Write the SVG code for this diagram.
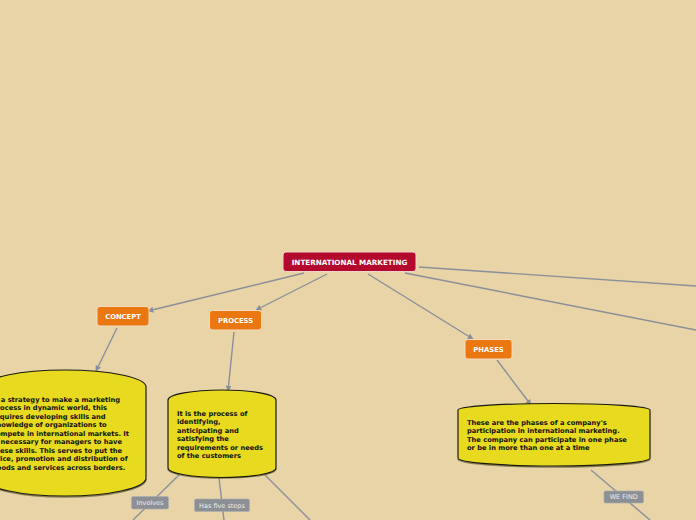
<svg xmlns="http://www.w3.org/2000/svg" width="696" height="520" viewBox="0 0 696 520">
<style>
.bg{fill:#e9d4a8}
.edge{stroke:#8a8f99;stroke-width:1.4;fill:none}
.main rect{fill:#b3092c;stroke:#f2d4cf;stroke-width:1}
.sub rect{fill:#ea770f;stroke:#f5dcc0;stroke-width:1}
.lbl{font-family:"DejaVu Sans",Verdana,sans-serif;font-weight:bold;font-size:6.8px;fill:#ffffff;text-anchor:middle}
.title{font-size:7.2px}
.cyl{fill:#e8da1e;stroke:#1a1a10;stroke-width:1.2}
.shadow{fill:none;stroke:#3a3610;stroke-width:1.6;opacity:0.55}
.body{font-family:"DejaVu Sans",Verdana,sans-serif;font-weight:bold;font-size:6.7px;fill:#111111}
.tag rect{fill:#8c8f94;stroke:#a9acb0;stroke-width:0.6}
.tag text{font-family:"DejaVu Sans",Verdana,sans-serif;font-size:6.5px;fill:#eeeeee;text-anchor:middle}
</style>
<defs>
<marker id="arr" viewBox="0 0 10 10" refX="9" refY="5" markerWidth="6" markerHeight="6" orient="auto" markerUnits="userSpaceOnUse">
<path d="M0,0 L10,5 L0,10 Z" fill="#8a8f99"/>
</marker>
</defs>
<rect class="bg" x="0" y="0" width="696" height="520"/>
<g id="connectors">
<line class="edge" x1="304" y1="273" x2="148" y2="311" marker-end="url(#arr)"/>
<line class="edge" x1="327" y1="274" x2="256" y2="310" marker-end="url(#arr)"/>
<line class="edge" x1="368" y1="274" x2="473" y2="339" marker-end="url(#arr)"/>
<line class="edge" x1="419" y1="267" x2="696" y2="286"/>
<line class="edge" x1="405" y1="273" x2="696" y2="330"/>
<line class="edge" x1="117" y1="328" x2="96" y2="371" marker-end="url(#arr)"/>
<line class="edge" x1="234" y1="332" x2="228" y2="391" marker-end="url(#arr)"/>
<line class="edge" x1="497" y1="360" x2="531" y2="405" marker-end="url(#arr)"/>
<line class="edge" x1="179" y1="475" x2="133" y2="520"/>
<line class="edge" x1="219" y1="478" x2="224" y2="520"/>
<line class="edge" x1="265" y1="475" x2="310" y2="520"/>
<line class="edge" x1="591" y1="470" x2="650" y2="520"/>
</g>
<g id="n-main" class="main">
<rect x="283" y="252" width="133" height="19.5" rx="3"/>
<text class="lbl title" x="349.5" y="264.6">INTERNATIONAL MARKETING</text>
</g>
<g id="n-concept" class="sub">
<rect x="97" y="306.5" width="52" height="19.5" rx="3"/>
<text class="lbl" x="123" y="318.8">CONCEPT</text>
</g>
<g id="n-process" class="sub">
<rect x="209.5" y="310.5" width="52" height="19.5" rx="3"/>
<text class="lbl" x="235.5" y="322.8">PROCESS</text>
</g>
<g id="n-phases" class="sub">
<rect x="465" y="339.5" width="47" height="19.5" rx="3"/>
<text class="lbl" x="488.5" y="351.8">PHASES</text>
</g>
<g id="n-concept-desc">
<path class="shadow" d="M146,479 A81,18 0 0 1 -16,479"/>
<path class="cyl" d="M-16,387 A81,17 0 0 1 146,387 L146,478 A81,18 0 0 1 -16,478 Z"/>
<text class="body" x="-8" y="401.8">Is a strategy to make a marketing</text>
<text class="body" x="-8" y="410.3">process in dynamic world, this</text>
<text class="body" x="-8" y="418.8">requires developing skills and</text>
<text class="body" x="-8" y="427.3">knowledge of organizations to</text>
<text class="body" x="-8" y="435.8">compete in international markets. It</text>
<text class="body" x="-8" y="444.3">is necessary for managers to have</text>
<text class="body" x="-8" y="452.8">these skills. This serves to put the</text>
<text class="body" x="-8" y="461.3">price, promotion and distribution of</text>
<text class="body" x="-8" y="469.8">goods and  services across borders.</text>
</g>
<g id="n-process-desc">
<path class="shadow" d="M276,469 A54,9 0 0 1 168,469"/>
<path class="cyl" d="M168,400 A54,10 0 0 1 276,400 L276,468 A54,9.5 0 0 1 168,468 Z"/>
<text class="body" x="177" y="415.8">It is the process  of</text>
<text class="body" x="177" y="424.3">identifying,</text>
<text class="body" x="177" y="432.8">anticipating and</text>
<text class="body" x="177" y="441.3">satisfying the</text>
<text class="body" x="177" y="449.8">requirements or needs</text>
<text class="body" x="177" y="458.3">of the customers</text>
</g>
<g id="n-phases-desc">
<path class="shadow" d="M650,459 A96,8 0 0 1 458,459"/>
<path class="cyl" d="M458,410 A96,6.5 0 0 1 650,410 L650,458 A96,8 0 0 1 458,458 Z"/>
<text class="body" x="467" y="424.8">These are the phases of a company's</text>
<text class="body" x="467" y="433.3">participation in international marketing.</text>
<text class="body" x="467" y="441.8">The company can participate in one phase</text>
<text class="body" x="467" y="450.3">or be in more than one at a time</text>
</g>
<g id="l-involves" class="tag">
<rect x="131.5" y="496.5" width="37" height="12.5" rx="1.5"/>
<text x="150" y="505">Involves</text>
</g>
<g id="l-steps" class="tag">
<rect x="194.5" y="499" width="55" height="12.5" rx="1.5"/>
<text x="222" y="507.5">Has five steps</text>
</g>
<g id="l-wefind" class="tag">
<rect x="604" y="491" width="39.5" height="12" rx="1.5"/>
<text x="623.7" y="499.3">WE FIND</text>
</g>
</svg>
